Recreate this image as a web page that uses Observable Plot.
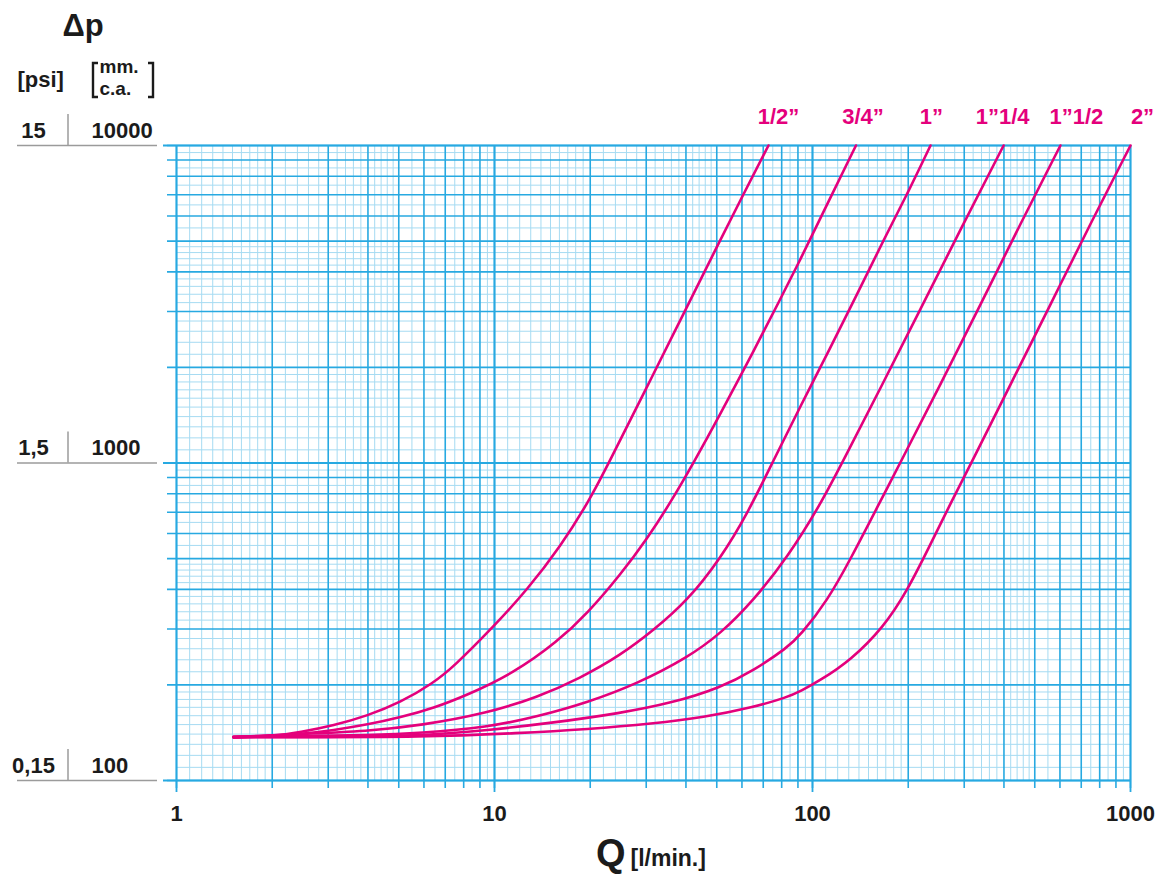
<!DOCTYPE html>
<html>
<head>
<meta charset="utf-8">
<script src="https://cdn.jsdelivr.net/npm/d3@7"></script>
<script src="https://cdn.jsdelivr.net/npm/@observablehq/plot@0.6"></script>
<style>
  html, body { margin: 0; padding: 0; background: #fff; }
</style>
</head>
<body>
<div id="chart"></div>
<script>
// ---------- data ----------
const seriesNames = ["1/2”", "3/4”", "1”", "1”1/4", "1”1/2", "2”"];

const q_12 = [1.51, 2.02, 2.45, 3.12, 3.99, 5.06, 6.43, 7.43, 9.93, 12.7, 16.1, 20.0, 22.8, 30.3, 40.5, 50.3, 60.3, 72.7];
const dp_12 = [137, 138, 142, 149, 160, 176, 203, 228, 305, 400, 544, 770, 994, 1752, 3130, 4848, 6943, 10000];

const q_34 = [1.51, 1.93, 2.45, 3.12, 3.99, 5.06, 6.43, 8.23, 11.5, 15.8, 19.6, 24.9, 30.3, 35.8, 42.3, 51.4, 65.2, 79.3, 91.7, 106, 137];
const dp_34 = [137, 138, 140, 144, 150, 158, 169, 186, 218, 274, 336, 445, 580, 752, 1002, 1431, 2245, 3290, 4385, 5920, 10000];

const q_1 = [1.51, 2.45, 3.99, 5.85, 9.51, 13.65, 18.6, 24.9, 31.6, 40.5, 51.4, 62.4, 75.4, 91.7, 114, 138.5, 167, 199, 235];
const dp_1 = [137, 140, 143, 149, 163, 183, 210, 248, 297, 369, 501, 692, 1018, 1514, 2311, 3420, 5020, 7060, 10000];

const q_114 = [1.51, 2.45, 3.99, 5.85, 9.51, 13.65, 19.6, 28.2, 40.5, 51.4, 65.2, 83.4, 106, 125, 164, 219, 292, 399];
const dp_114 = [137, 138, 139, 141, 147, 159, 176, 202, 244, 290, 369, 504, 741, 1018, 1729, 3066, 5440, 10000];

const q_112 = [1.51, 2.45, 5.85, 9.51, 15.3, 24.9, 35.8, 51.4, 65.2, 83.4, 91.7, 111.5, 131.7, 164, 191.9, 252.7, 337.6, 451, 602];
const dp_112 = [137, 137, 138, 144, 152, 163, 175, 196, 222, 262, 287, 369, 498, 762, 1035, 1767, 3157, 5680, 10000];

const q_2 = [1.51, 2.45, 5.85, 12.1, 19.6, 31.6, 45.4, 65.2, 83.4, 91.7, 106, 131.7, 167, 199, 235, 271.6, 318.5, 419.4, 560.3, 748.5, 1000];
const dp_2 = [137, 137, 137, 141, 145, 151, 158, 170, 183, 191, 207, 239, 303, 397, 555, 745, 1018, 1767, 3157, 5680, 10000];

// axes / ticks
const xMajor = [1,2,3,4,5,6,7,8,9,10,20,30,40,50,60,70,80,90,100,200,300,400,500,600,700,800,900,1000];
const yMajor = [100,200,300,400,500,600,700,800,900,1000,2000,3000,4000,5000,6000,7000,8000,9000,10000];
const xDecades = [1, 10, 100, 1000];
const xLabels = ["1", "10", "100", "1000"];
const yDecades = [100, 1000, 10000];
const psiLabels = ["0,15", "1,5", "15"];
const mmLabels = ["100", "1000", "10000"];
const minorPattern = [[1, 2, 0.1], [2, 5, 0.2], [5, 10, 0.5]]; // graph-paper subdivisions

function minorTicks(bases) {
  const out = [];
  for (const b of bases) for (const [a, e, s] of minorPattern) {
    for (let k = 1; a + k * s < e - 1e-9; k++) {
      const m = a + k * s;
      if (Math.abs(m - Math.round(m)) > 1e-9) out.push(+(b * m).toPrecision(6));
    }
  }
  return out;
}
const xMinor = minorTicks([1, 10, 100]);
const yMinor = minorTicks([100, 1000]);

// ---------- build table ----------
const qs = [q_12, q_34, q_1, q_114, q_112, q_2];
const dps = [dp_12, dp_34, dp_1, dp_114, dp_112, dp_2];
const rows = seriesNames.flatMap((name, s) => qs[s].map((q, i) => ({series: name, q, dp: dps[s][i]})));
const ends = seriesNames.map((name, s) => ({series: name, q: qs[s][qs[s].length - 1], dp: dps[s][dps[s].length - 1]}));

// ---------- styles ----------
const MAG = "#e4007c";
const BLUE = "#27a9e1";
const LIGHT = "#a6dbf2";
const GREY = "#9b9b9b";
const INK = "#1b1b1b";
const labelDx = [10, 7, 1, -1, 16, 12];

function decorations(index, scales) {
  const y = scales.y;
  const g = d3.create("svg:g").attr("fill", "none");
  for (const v of yDecades) {
    g.append("line").attr("x1", 68).attr("x2", 68)
      .attr("y1", y(v) - 31).attr("y2", y(v))
      .attr("stroke", GREY).attr("stroke-width", 1.5);
  }
  g.append("path")
    .attr("d", "M98,63H93V97H98M148,63H153V97H148")
    .attr("stroke", INK).attr("stroke-width", 2.4);
  return g.node();
}

const chart = Plot.plot({
  width: 1164,
  height: 877,
  marginLeft: 176,
  marginRight: 34,
  marginTop: 145,
  marginBottom: 97,
  x: {type: "log", domain: [1, 1000], axis: null},
  y: {type: "log", domain: [100, 10000], axis: null},
  style: {fontFamily: "'Liberation Sans', Arial, Helvetica, sans-serif", background: "#fff", overflow: "visible"},
  marks: [
    // minor grid
    Plot.ruleX(xMinor, {stroke: LIGHT, strokeWidth: 1}),
    Plot.ruleY(yMinor, {stroke: LIGHT, strokeWidth: 1}),
    // major grid with outer ticks
    Plot.ruleX(xMajor, {stroke: BLUE, strokeWidth: 1.6, insetBottom: -8}),
    Plot.ruleY(yMajor, {stroke: BLUE, strokeWidth: 1.6, insetLeft: -9}),
    Plot.ruleX(xDecades, {stroke: BLUE, strokeWidth: 1.8, insetBottom: -12}),
    Plot.ruleY(yDecades, {stroke: BLUE, strokeWidth: 1.8, insetLeft: -13}),
    // grey label rules on the left
    Plot.ruleY(yDecades, {stroke: GREY, strokeWidth: 1.5, insetLeft: -159, insetRight: 973}),
    decorations,
    // curves
    Plot.line(rows, {x: "q", y: "dp", z: "series", stroke: MAG, strokeWidth: 2.6, curve: "basis"}),
    // series labels
    ...ends.map((d, i) => Plot.text([d], {
      x: "q", y: "dp", text: "series", dx: labelDx[i], dy: -22, lineAnchor: "bottom",
      fill: MAG, fontWeight: "bold", fontSize: 22
    })),
    // x tick labels
    Plot.text(xDecades, {x: d => d, text: (d, i) => xLabels[i], frameAnchor: "bottom", dy: 40,
      lineAnchor: "bottom", fill: INK, fontWeight: "bold", fontSize: 22}),
    // y tick labels
    Plot.text(yDecades, {y: d => d, text: (d, i) => psiLabels[i], frameAnchor: "left", dx: -143, dy: -8,
      textAnchor: "middle", lineAnchor: "bottom", fill: INK, fontWeight: "bold", fontSize: 22}),
    Plot.text(yDecades, {y: d => d, text: (d, i) => mmLabels[i], frameAnchor: "left", dx: -85, dy: -8,
      textAnchor: "start", lineAnchor: "bottom", fill: INK, fontWeight: "bold", fontSize: 22}),
    // axis titles
    Plot.text(["Δp"], {frameAnchor: "top-left", dx: -114, dy: -110, textAnchor: "start", lineAnchor: "bottom",
      fill: INK, fontWeight: "bold", fontSize: 31}),
    Plot.text(["[psi]"], {frameAnchor: "top-left", dx: -159, dy: -59, textAnchor: "start", lineAnchor: "bottom",
      fill: INK, fontWeight: "bold", fontSize: 22}),
    Plot.text(["mm.\nc.a."], {frameAnchor: "top-left", dx: -77, dy: -51, textAnchor: "start", lineAnchor: "bottom",
      lineHeight: 1.12, fill: INK, fontWeight: "bold", fontSize: 19}),
    Plot.text(["Q"], {frameAnchor: "bottom", dx: -28, dy: 85, textAnchor: "end", lineAnchor: "bottom",
      fill: INK, fontWeight: "bold", fontSize: 38}),
    Plot.text(["[l/min.]"], {frameAnchor: "bottom", dx: -23, dy: 85, textAnchor: "start", lineAnchor: "bottom",
      fill: INK, fontWeight: "bold", fontSize: 23})
  ]
});
document.getElementById("chart").appendChild(chart);
</script>
</body>
</html>
